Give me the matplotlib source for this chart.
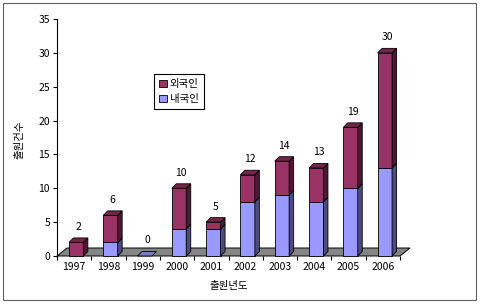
import matplotlib
matplotlib.use('Agg')
import matplotlib.pyplot as plt
from matplotlib.patches import Polygon, Rectangle, Patch

plt.rcParams['font.family'] = ['Noto Sans CJK KR', 'DejaVu Sans']

# 데이터
years = ['1997', '1998', '1999', '2000', '2001', '2002', '2003', '2004', '2005', '2006']
domestic = [0, 2, 0, 4, 4, 8, 9, 8, 10, 13]   # 내국인
foreign = [2, 4, 0, 6, 1, 4, 5, 5, 9, 17]     # 외국인

c_dom = ['#9999ff', '#4c4c80', '#7a7acc']     # front, side, top
c_for = ['#993366', '#4c1933', '#732649']
fs = 7.5

fig = plt.figure(figsize=(4.8, 3.06), dpi=100)
ax = fig.add_axes([57/480, 50/306, 343/480, 237/306])
ax.set_xlim(-0.5, len(years) - 0.5)
ax.set_ylim(0, 35)

# 픽셀 -> 데이터 단위 (3D 깊이 효과)
px_x = 343 / len(years)
px_y = 237 / 35
bdx, bdy = 4.5 / px_x, 4.5 / px_y
fdx, fdy = 10 / px_x, 8 / px_y
w = 0.42
shift = 2 / px_x

# 바닥
n = len(years)
floor = Polygon([(-0.5, 0), (n - 0.5, 0), (n - 0.5 + fdx, fdy), (-0.5 + fdx, fdy)],
                closed=True, facecolor='#858585', edgecolor='black', lw=0.7,
                clip_on=False, zorder=1)
ax.add_patch(floor)

x = [i + shift for i in range(n)]

def box(xc, y0, y1, cols, top):
    xl, xr = xc - w/2, xc + w/2
    if y1 > y0:
        ax.add_patch(Rectangle((xl, y0), w, y1 - y0, facecolor=cols[0],
                               edgecolor='black', lw=0.6, zorder=3, clip_on=False))
        ax.add_patch(Polygon([(xr, y0), (xr + bdx, y0 + bdy), (xr + bdx, y1 + bdy), (xr, y1)],
                             closed=True, facecolor=cols[1], edgecolor='black', lw=0.6,
                             zorder=3, clip_on=False))
    if top:
        ax.add_patch(Polygon([(xl, y1), (xr, y1), (xr + bdx, y1 + bdy), (xl + bdx, y1 + bdy)],
                             closed=True, facecolor=cols[2], edgecolor='black', lw=0.6,
                             zorder=3, clip_on=False))

for xi, d, f in zip(x, domestic, foreign):
    box(xi, 0, d, c_dom, top=(f == 0))
    if f > 0:
        box(xi, d, d + f, c_for, top=True)
    total = d + f
    ax.annotate(str(total), (xi + bdx/2, total + bdy), xytext=(0, 8),
                textcoords='offset points', ha='center', va='center', fontsize=fs)

# 축
for s in ['top', 'right', 'bottom']:
    ax.spines[s].set_visible(False)
ax.spines['left'].set_linewidth(0.8)
ax.set_yticks(range(0, 36, 5))
ax.tick_params(axis='y', labelsize=fs, length=3, width=0.8, pad=2)
ax.set_xticks(range(n))
ax.set_xticklabels(years)
ax.set_xticks([i + 0.5 for i in range(-1, n)], minor=True)
ax.tick_params(axis='x', which='major', length=0, labelsize=fs, pad=4)
ax.tick_params(axis='x', which='minor', length=3, width=0.8)

ax.set_ylabel('출원건수', fontsize=fs)
ax.yaxis.set_label_coords(-0.095, 0.49)
ax.set_xlabel('출원년도', fontsize=fs)
ax.xaxis.set_label_coords(0.5, -0.105)

handles = [Patch(facecolor=c_for[0], edgecolor='black', lw=0.6, label='외국인'),
           Patch(facecolor=c_dom[0], edgecolor='black', lw=0.6, label='내국인')]
leg = ax.legend(handles=handles, loc='upper left', bbox_to_anchor=(0.283, 0.768),
                fontsize=fs, fancybox=False, edgecolor='black', framealpha=1,
                handlelength=0.7, handleheight=0.7, handletextpad=0.3,
                borderpad=0.5, labelspacing=0.45, borderaxespad=0)
leg.get_frame().set_linewidth(0.8)

fig.patches.append(Rectangle((3/480, 6/306), 473/480, 297/306, transform=fig.transFigure,
                             fill=False, edgecolor='#606060', lw=0.8))

fig.savefig('out.png', dpi=100)
